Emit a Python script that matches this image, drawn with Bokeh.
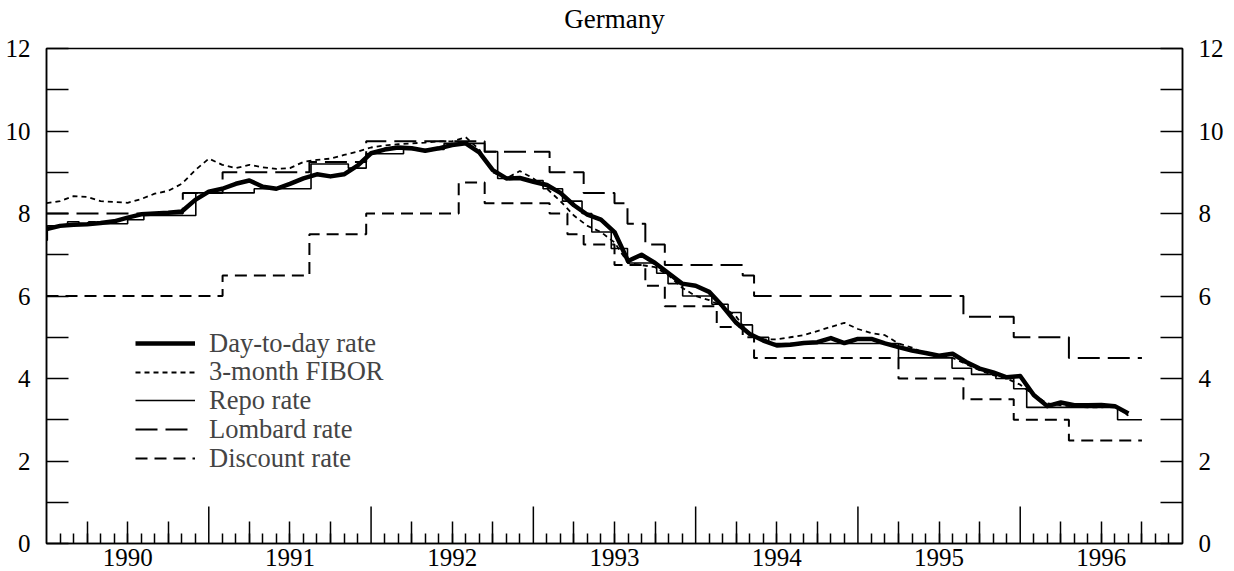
import numpy as np
import pandas as pd
from bokeh.plotting import figure
from bokeh.models import (Range1d, LinearAxis, FixedTicker, CustomJSTickFormatter,
                          Legend, LegendItem)
from bokeh.embed import file_html
from bokeh.resources import INLINE

# ---------------- data (percent per annum) ----------------
# monthly observations, January 1990 .. September 1996
months = pd.period_range("1990-01", "1996-09", freq="M")

day_to_day = [7.62, 7.70, 7.73, 7.74, 7.77, 7.81, 7.90, 7.98, 8.00, 8.02, 8.05, 8.33,
              8.53, 8.60, 8.72, 8.80, 8.65, 8.60, 8.72, 8.85, 8.95, 8.90, 8.95, 9.16,
              9.46, 9.55, 9.60, 9.58, 9.52, 9.58, 9.66, 9.70, 9.48, 9.05, 8.85, 8.86,
              8.77, 8.69, 8.50, 8.20, 7.97, 7.85, 7.55, 6.85, 7.00, 6.80, 6.55, 6.30,
              6.25, 6.10, 5.75, 5.35, 5.08, 4.92, 4.80, 4.82, 4.86, 4.88, 4.98, 4.86,
              4.96, 4.96, 4.85, 4.76, 4.68, 4.62, 4.55, 4.60, 4.40, 4.24, 4.15, 4.03,
              4.06, 3.60, 3.33, 3.42, 3.35, 3.35, 3.36, 3.33, 3.15]

fibor_3m = [8.25, 8.30, 8.42, 8.40, 8.30, 8.28, 8.26, 8.35, 8.48, 8.55, 8.72, 9.05,
            9.33, 9.18, 9.10, 9.18, 9.12, 9.08, 9.10, 9.25, 9.30, 9.33, 9.42, 9.50,
            9.60, 9.65, 9.68, 9.70, 9.72, 9.75, 9.75, 9.85, 9.55, 9.00, 8.85, 9.03,
            8.85, 8.60, 8.30, 7.95, 7.70, 7.55, 7.30, 6.80, 6.75, 6.70, 6.50, 6.20,
            6.00, 5.90, 5.75, 5.50, 5.05, 4.95, 4.95, 5.00, 5.05, 5.15, 5.25, 5.35,
            5.20, 5.10, 5.05, 4.85, 4.75, 4.60, 4.55, 4.50, 4.35, 4.20, 4.08, 4.00,
            3.85, 3.60, 3.40, 3.35, 3.32, 3.30, 3.30, 3.33, 3.10]

# step series: date of change (decimal year) and new rate; last entry = end of chart
repo_dates = [1990.000, 1990.005, 1990.13, 1990.20, 1990.26, 1990.30, 1990.50, 1990.60,
              1990.92, 1991.28, 1991.63, 1991.86, 1991.97, 1992.20, 1992.45, 1992.70,
              1992.78, 1992.95, 1993.06, 1993.18, 1993.30, 1993.36, 1993.48, 1993.58,
              1993.76, 1993.83, 1993.92, 1994.10, 1994.20, 1994.28, 1994.35, 1994.45,
              1995.25, 1995.58, 1995.70, 1995.85, 1995.96, 1996.04, 1996.60, 1996.75]
repo_rates = [7.35, 7.70, 7.80, 7.72, 7.80, 7.75, 7.85, 7.95,
              8.50, 8.60, 9.20, 9.10, 9.45, 9.55, 9.70, 9.50,
              8.85, 8.80, 8.60, 8.30, 8.00, 7.55, 7.15, 6.80,
              6.55, 6.30, 6.00, 5.80, 5.60, 5.30, 5.00, 4.85,
              4.50, 4.25, 4.10, 4.00, 3.75, 3.30, 3.00, 3.00]

lombard_dates = [1990.00, 1990.84, 1991.085, 1991.62, 1991.97, 1992.70, 1993.10, 1993.31,
                 1993.50, 1993.58, 1993.69, 1993.81, 1994.29, 1994.36, 1995.65, 1995.96,
                 1996.30, 1996.75]
lombard_rates = [8.00, 8.50, 9.00, 9.25, 9.75, 9.50, 9.00, 8.50,
                 8.25, 7.75, 7.25, 6.75, 6.50, 6.00, 5.50, 5.00,
                 4.50, 4.50]

discount_dates = [1990.00, 1991.085, 1991.62, 1991.97, 1992.54, 1992.70, 1993.10, 1993.21,
                  1993.31, 1993.50, 1993.69, 1993.81, 1994.13, 1994.29, 1994.36, 1995.25,
                  1995.65, 1995.96, 1996.30, 1996.75]
discount_rates = [6.00, 6.50, 7.50, 8.00, 8.75, 8.25, 8.00, 7.50,
                  7.25, 6.75, 6.25, 5.75, 5.25, 5.00, 4.50, 4.00,
                  3.50, 3.00, 2.50, 2.50]

year_labels = [1990, 1991, 1992, 1993, 1994, 1995, 1996]
year_marks = [1991, 1992, 1993, 1994, 1995, 1996]
legend_labels = ["Day-to-day rate", "3-month FIBOR", "Repo rate", "Lombard rate", "Discount rate"]
title_text = "Germany"

# ---------------- figure ----------------
FONT = "Liberation Serif"
month_x = [pr.year + (pr.month - 1) / 12 for pr in months]

p = figure(width=1234, height=571, x_range=Range1d(1990, 1997), y_range=Range1d(0, 12),
           output_backend="svg", toolbar_location=None, x_axis_type=None, y_axis_type=None,
           min_border_left=46, min_border_right=52, min_border_top=47, min_border_bottom=28)
p.outline_line_color = "black"
p.outline_line_width = 1.5
p.background_fill_color = "white"
p.border_fill_color = "white"

# chart title, carried as the label of a tick-less top axis
top_axis = LinearAxis(ticker=FixedTicker(ticks=[], minor_ticks=[]), axis_label=title_text)
top_axis.axis_label_standoff = 15
top_axis.axis_label_text_font = FONT
top_axis.axis_label_text_font_size = "27px"
top_axis.axis_label_text_font_style = "normal"
top_axis.axis_label_text_color = "black"
top_axis.axis_line_color = None
top_axis.major_tick_line_color = None
top_axis.minor_tick_line_color = None
top_axis.major_tick_out = 0
top_axis.minor_tick_out = 0
top_axis.major_label_text_font_size = "0px"
top_axis.major_label_standoff = 0
p.add_layout(top_axis, "above")

# x axis: quarter ticks (labels at mid-year), month minor ticks
quarters = [y + q for y in year_labels for q in (0.25, 0.5, 0.75)]
month_ticks = [y + k / 12 for y in year_labels for k in range(1, 12)]
xaxis = LinearAxis(ticker=FixedTicker(ticks=quarters, minor_ticks=month_ticks),
                   formatter=CustomJSTickFormatter(code="""
                       const f = Math.floor(tick);
                       return (Math.abs(tick - f - 0.5) < 1e-6) ? String(f) : "";
                   """))
xaxis.major_tick_in = 22
xaxis.major_tick_out = 0
xaxis.minor_tick_in = 10
xaxis.minor_tick_out = 0
xaxis.major_label_standoff = 5
p.add_layout(xaxis, "below")

yfmt = """const r = Math.round(tick); return (r % 2 == 0) ? String(r) : "";"""
yleft = LinearAxis(ticker=FixedTicker(ticks=list(range(0, 13))),
                   formatter=CustomJSTickFormatter(code=yfmt))
yright = LinearAxis(ticker=FixedTicker(ticks=list(range(0, 13))),
                    formatter=CustomJSTickFormatter(code=yfmt))
for ax in [yleft, yright]:
    ax.major_tick_in = 22
    ax.major_tick_out = 0
    ax.minor_tick_line_color = None
    ax.major_label_standoff = 16
p.add_layout(yleft, "left")
p.add_layout(yright, "right")

for ax in [xaxis, yleft, yright]:
    ax.axis_line_width = 1.5
    ax.major_tick_line_width = 1.5
    ax.minor_tick_line_width = 1.5
    ax.axis_line_color = "black"
    ax.major_tick_line_color = "black"
    ax.major_label_text_font = FONT
    ax.major_label_text_font_size = "25px"
    ax.major_label_text_color = "black"

# long year-boundary ticks
p.ray(x=year_marks, y=[0] * len(year_marks), length=37, length_units="screen",
      angle=np.pi / 2, line_color="black", line_width=1.5)

# series
r_disc = p.step(discount_dates, discount_rates, mode="after", line_color="black",
                line_width=2, line_dash="12 7")
r_lomb = p.step(lombard_dates, lombard_rates, mode="after", line_color="black",
                line_width=2, line_dash="22 8")
r_repo = p.step(repo_dates, repo_rates, mode="after", line_color="black", line_width=1.6)
r_fib = p.line(month_x, fibor_3m, line_color="black", line_width=1.8, line_dash="5 4")
r_dtd = p.line(month_x, day_to_day, line_color="black", line_width=4.5, line_join="round")

# one legend row per entry, stacked at the reference's row pitch
renderers = [r_dtd, r_fib, r_repo, r_lomb, r_disc]
row_offsets = [184.5, 156, 127.5, 98.5, 69.5]   # px above the frame bottom
for lab, rend, off in zip(legend_labels, renderers, row_offsets):
    lg = Legend(items=[LegendItem(label=lab, renderers=[rend])],
                location=(89, off), glyph_width=60, glyph_height=28, label_height=28,
                spacing=0, padding=0, margin=0, label_standoff=14,
                border_line_alpha=0, background_fill_alpha=0,
                label_text_font=FONT, label_text_font_size="26.5px")
    p.add_layout(lg)

open("out.html", "w").write(file_html(p, INLINE))
